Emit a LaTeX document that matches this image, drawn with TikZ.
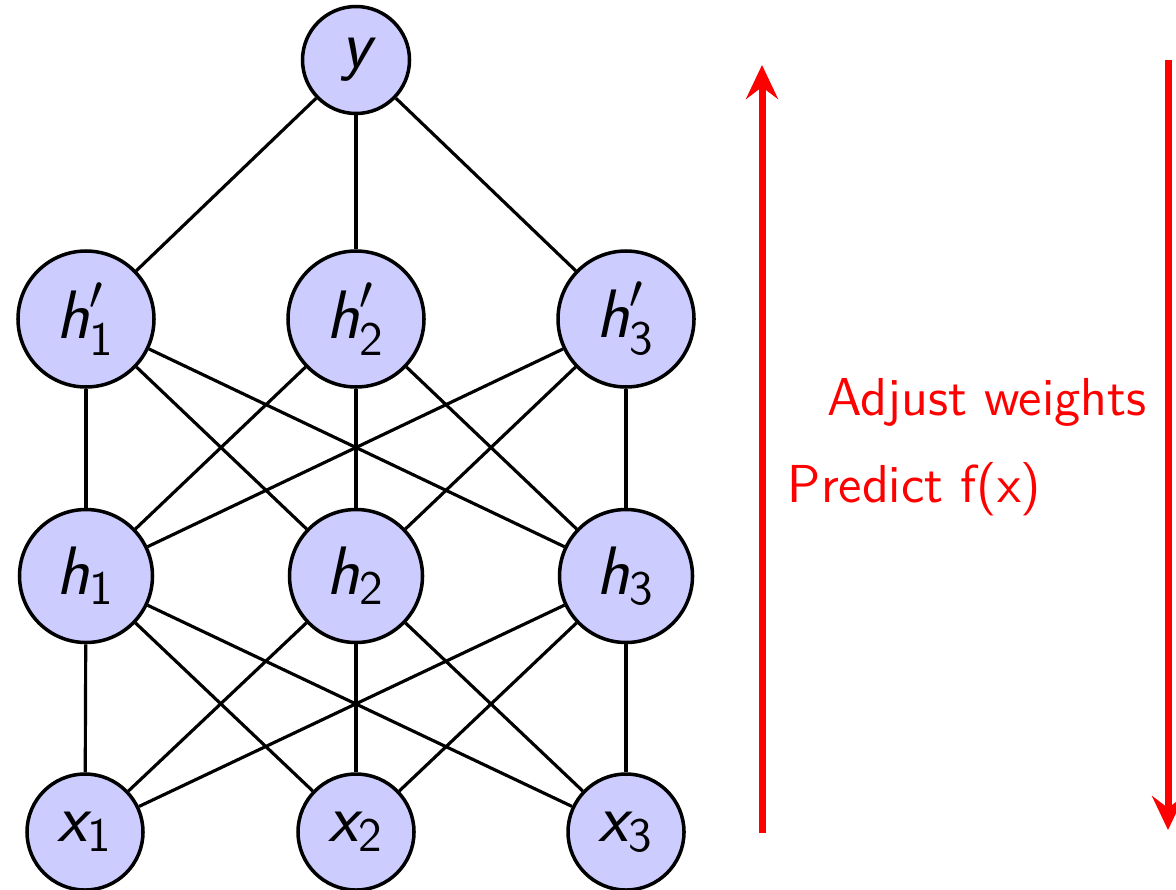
\documentclass[tikz,border=0pt]{standalone}
\usepackage{fix-cm}
\usepackage{amsmath}
\usetikzlibrary{arrows.meta}
\newcommand{\nvar}[1]{\text{\sffamily\slshape #1}}
\newcommand{\nidx}[1]{\text{\sffamily\upshape #1}}
\begin{document}
\begin{tikzpicture}[
    neuron/.style={circle, draw, line width=1pt, fill=blue!20, inner sep=0pt,
      font=\fontsize{19.5}{23}\selectfont},
    pass/.style={red, line width=2pt, -{Stealth[length=3.4mm, width=3.2mm, inset=1.2mm]}},
    passlabel/.style={red, inner sep=0pt, font=\fontsize{15.2}{18}\sffamily}
  ]
      \useasboundingbox (0,0) rectangle (11.76,-8.89);
      \draw
        (3.56,-0.60) node[neuron, minimum size=1.07cm] (y){$\nvar{y}$}
        (0.86,-3.19) node[neuron, minimum size=1.36cm] (hp1){$\nvar{h}'_{\nidx{1}}$}
        (3.56,-3.19) node[neuron, minimum size=1.36cm] (hp2){$\nvar{h}'_{\nidx{2}}$}
        (6.26,-3.19) node[neuron, minimum size=1.36cm] (hp3){$\nvar{h}'_{\nidx{3}}$}
        (0.86,-5.76) node[neuron, minimum size=1.33cm] (h1){$\nvar{h}_{\nidx{1}}$}
        (3.56,-5.76) node[neuron, minimum size=1.33cm] (h2){$\nvar{h}_{\nidx{2}}$}
        (6.26,-5.76) node[neuron, minimum size=1.33cm] (h3){$\nvar{h}_{\nidx{3}}$}
        (0.85,-8.32) node[neuron, minimum size=1.16cm] (x1){$\nvar{x}_{\nidx{1}}$}
        (3.56,-8.32) node[neuron, minimum size=1.16cm] (x2){$\nvar{x}_{\nidx{2}}$}
        (6.26,-8.32) node[neuron, minimum size=1.16cm] (x3){$\nvar{x}_{\nidx{3}}$};
      \begin{scope}[-, line width=0.9pt]
        \draw (y) to (hp1);
        \draw (y) to (hp2);
        \draw (y) to (hp3);
        \draw (hp1) to (h1);
        \draw (hp1) to (h2);
        \draw (hp1) to (h3);
        \draw (hp2) to (h1);
        \draw (hp2) to (h2);
        \draw (hp2) to (h3);
        \draw (hp3) to (h1);
        \draw (hp3) to (h2);
        \draw (hp3) to (h3);
        \draw (h1) to (x1);
        \draw (h1) to (x2);
        \draw (h1) to (x3);
        \draw (h2) to (x1);
        \draw (h2) to (x2);
        \draw (h2) to (x3);
        \draw (h3) to (x1);
        \draw (h3) to (x2);
        \draw (h3) to (x3);
      \end{scope}
      % forward and backward passes
      \coordinate (fwdtail) at (7.62,-8.33);
      \coordinate (fwdhead) at (7.62,-0.65);
      \coordinate (backtail) at (11.68,-0.60);
      \coordinate (backhead) at (11.68,-8.30);
      \draw[pass] (fwdtail) to (fwdhead);
      \draw[pass] (backtail) to (backhead);
      \node[passlabel, anchor=base east] (adjust) at (11.47,-4.15) {Adjust weights};
      \node[passlabel, anchor=base west] (predict) at (7.87,-5.02) {Predict f(x)};
    \end{tikzpicture}
\end{document}
